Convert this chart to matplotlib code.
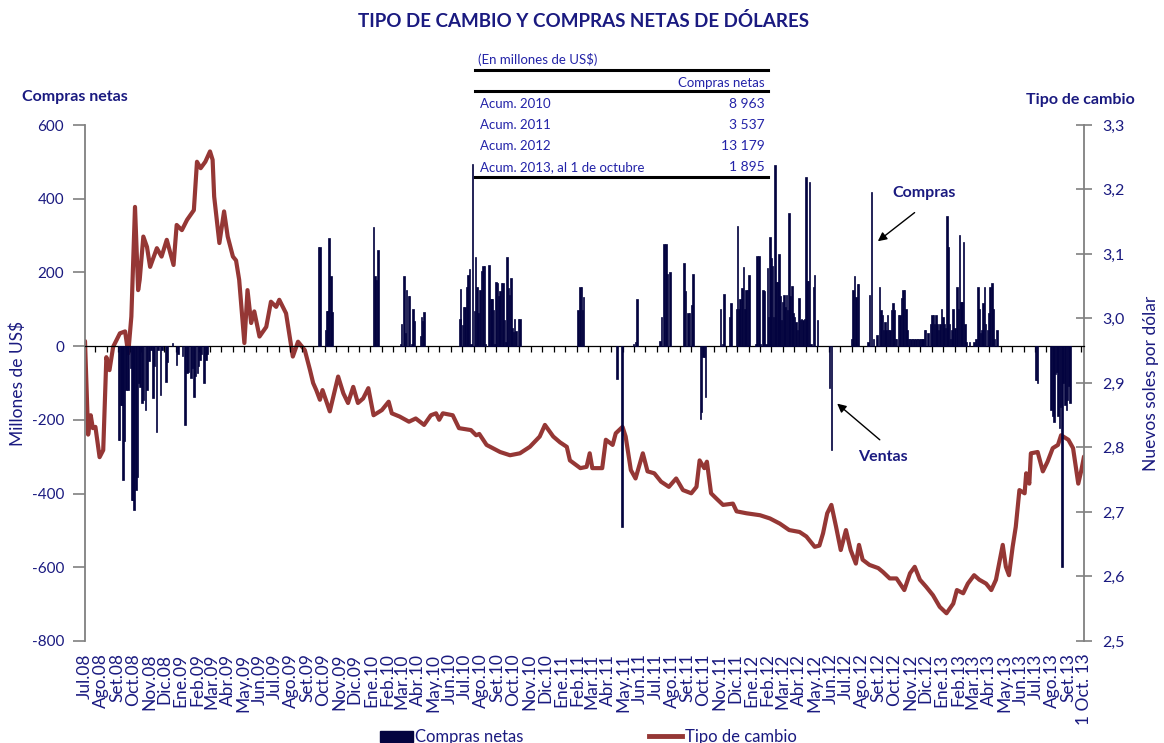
import matplotlib
matplotlib.use("Agg")
import matplotlib.pyplot as plt
import matplotlib.dates as mdates
from matplotlib.lines import Line2D
from matplotlib.patches import Patch
from matplotlib.ticker import FuncFormatter
import pandas as pd

plt.rcParams['font.family'] = ['Lato', 'DejaVu Sans']
plt.rcParams['axes.unicode_minus'] = False

# ---------------- DATA ----------------
# Tipo de cambio (soles por dólar)
tc_fechas = [
    "2008-07-01", "2008-07-07", "2008-07-12", "2008-07-16", "2008-07-21", "2008-07-29",
    "2008-08-05", "2008-08-11", "2008-08-17", "2008-08-24", "2008-09-06", "2008-09-16",
    "2008-09-22", "2008-09-28", "2008-10-05", "2008-10-11", "2008-10-14", "2008-10-21",
    "2008-10-28", "2008-11-03", "2008-11-16", "2008-11-25", "2008-12-05", "2008-12-18",
    "2008-12-24", "2009-01-03", "2009-01-13", "2009-01-26", "2009-02-01", "2009-02-08",
    "2009-02-17", "2009-02-26", "2009-03-03", "2009-03-06", "2009-03-16", "2009-03-25",
    "2009-04-01", "2009-04-11", "2009-04-17", "2009-04-23", "2009-05-03", "2009-05-09",
    "2009-05-16", "2009-05-22", "2009-06-01", "2009-06-14", "2009-06-23", "2009-07-03",
    "2009-07-09", "2009-07-22", "2009-08-04", "2009-08-14", "2009-08-27", "2009-09-06",
    "2009-09-12", "2009-09-18", "2009-09-25", "2009-09-30", "2009-10-14", "2009-10-30",
    "2009-11-09", "2009-11-18", "2009-11-28", "2009-12-07", "2009-12-17", "2009-12-27",
    "2010-01-06", "2010-01-22", "2010-02-04", "2010-02-10", "2010-02-25", "2010-03-15",
    "2010-03-28", "2010-04-13", "2010-04-26", "2010-05-06", "2010-05-12", "2010-05-19",
    "2010-06-07", "2010-06-19", "2010-07-12", "2010-07-22", "2010-07-28", "2010-08-11",
    "2010-09-06", "2010-09-25", "2010-10-14", "2010-11-02", "2010-11-21", "2010-12-01",
    "2010-12-17", "2010-12-30", "2011-01-12", "2011-01-18", "2011-02-07", "2011-02-19",
    "2011-02-25", "2011-03-02", "2011-03-21", "2011-03-28", "2011-04-10", "2011-04-16",
    "2011-04-29", "2011-05-05", "2011-05-15", "2011-05-24", "2011-06-07", "2011-06-16",
    "2011-06-29", "2011-07-12", "2011-07-27", "2011-08-10", "2011-08-23", "2011-09-08",
    "2011-09-18", "2011-09-24", "2011-10-03", "2011-10-08", "2011-10-16", "2011-10-26",
    "2011-11-08", "2011-11-27", "2011-12-04", "2011-12-23", "2012-01-18", "2012-02-06",
    "2012-02-25", "2012-03-14", "2012-04-03", "2012-04-16", "2012-05-02", "2012-05-11",
    "2012-05-18", "2012-05-26", "2012-06-03", "2012-06-12", "2012-06-21", "2012-07-01",
    "2012-07-10", "2012-07-20", "2012-07-26", "2012-08-02", "2012-08-15", "2012-09-01",
    "2012-09-10", "2012-09-23", "2012-10-06", "2012-10-21", "2012-11-01", "2012-11-10",
    "2012-11-20", "2012-12-02", "2012-12-15", "2012-12-28", "2013-01-10", "2013-01-23",
    "2013-01-30", "2013-02-11", "2013-02-20", "2013-03-04", "2013-03-14", "2013-03-27",
    "2013-04-06", "2013-04-15", "2013-04-28", "2013-05-04", "2013-05-10", "2013-05-17",
    "2013-05-23", "2013-05-30", "2013-06-09", "2013-06-12", "2013-06-18", "2013-06-21",
    "2013-07-04", "2013-07-14", "2013-07-23", "2013-08-02", "2013-08-12", "2013-08-18",
    "2013-09-01", "2013-09-10", "2013-09-20", "2013-09-26", "2013-10-01",
]
tc_valores = [
    2.965, 2.820, 2.850, 2.830, 2.832, 2.785,
    2.796, 2.940, 2.920, 2.956, 2.977, 2.980,
    2.946, 3.003, 3.173, 3.044, 3.060, 3.127,
    3.111, 3.080, 3.109, 3.096, 3.122, 3.083,
    3.145, 3.137, 3.153, 3.168, 3.243, 3.233,
    3.243, 3.259, 3.246, 3.189, 3.117, 3.166,
    3.127, 3.096, 3.090, 3.060, 2.962, 3.044,
    2.993, 3.011, 2.972, 2.987, 3.026, 3.018,
    3.029, 3.008, 2.941, 2.964, 2.951, 2.920,
    2.900, 2.889, 2.874, 2.889, 2.856, 2.910,
    2.884, 2.869, 2.894, 2.869, 2.876, 2.892,
    2.850, 2.858, 2.871, 2.853, 2.848, 2.840,
    2.845, 2.835, 2.850, 2.853, 2.843, 2.853,
    2.850, 2.830, 2.827, 2.819, 2.821, 2.804,
    2.793, 2.788, 2.791, 2.801, 2.817, 2.835,
    2.817, 2.808, 2.801, 2.780, 2.768, 2.770,
    2.791, 2.768, 2.768, 2.812, 2.804, 2.822,
    2.832, 2.817, 2.765, 2.752, 2.791, 2.763,
    2.760, 2.747, 2.739, 2.752, 2.734, 2.729,
    2.739, 2.780, 2.768, 2.778, 2.729, 2.721,
    2.711, 2.713, 2.701, 2.698, 2.695, 2.690,
    2.682, 2.672, 2.669, 2.662, 2.646, 2.648,
    2.667, 2.698, 2.711, 2.677, 2.641, 2.672,
    2.641, 2.620, 2.649, 2.626, 2.618, 2.613,
    2.607, 2.597, 2.597, 2.579, 2.605, 2.615,
    2.595, 2.584, 2.571, 2.553, 2.543, 2.558,
    2.579, 2.574, 2.589, 2.602, 2.595, 2.589,
    2.579, 2.595, 2.649, 2.615, 2.602, 2.646,
    2.677, 2.734, 2.729, 2.760, 2.744, 2.791,
    2.793, 2.763, 2.778, 2.799, 2.804, 2.819,
    2.812, 2.799, 2.744, 2.765, 2.786,
]

# Compras netas diarias (millones de US$)
compras_fechas = [
    # 2008-2009 ventas
    "2008-09-03", "2008-09-05", "2008-09-08", "2008-09-10", "2008-09-12", "2008-09-15",
    "2008-09-18", "2008-09-22", "2008-09-26", "2008-09-29", "2008-10-01", "2008-10-03",
    "2008-10-07", "2008-10-10", "2008-10-13", "2008-10-15", "2008-10-18", "2008-10-21",
    "2008-10-25", "2008-10-28", "2008-11-01", "2008-11-05", "2008-11-09", "2008-11-11",
    "2008-11-15", "2008-11-18", "2008-11-23", "2008-11-26", "2008-12-03", "2008-12-05",
    "2008-12-16", "2008-12-24", "2008-12-27", "2009-01-04", "2009-01-09", "2009-01-13",
    "2009-01-16", "2009-01-21", "2009-01-23", "2009-01-26", "2009-01-29", "2009-02-02",
    "2009-02-04", "2009-02-07", "2009-02-10", "2009-02-14", "2009-02-18", "2009-02-20",
    # 2009-2010
    "2009-09-22", "2009-09-25", "2009-10-06", "2009-10-09", "2009-10-11", "2009-10-13",
    "2009-10-16", "2009-10-18",
    "2010-01-06", "2010-01-09", "2010-01-12", "2010-01-15",
    "2010-02-27", "2010-03-01", "2010-03-05", "2010-03-08", "2010-03-10", "2010-03-14",
    "2010-03-16", "2010-03-21", "2010-03-23", "2010-03-26", "2010-04-06", "2010-04-08",
    "2010-04-11", "2010-04-13",
    "2010-06-21", "2010-06-22", "2010-06-26", "2010-06-28", "2010-07-01", "2010-07-04",
    "2010-07-06", "2010-07-09", "2010-07-12", "2010-07-15", "2010-07-19", "2010-07-21",
    "2010-07-24", "2010-07-26", "2010-07-29", "2010-08-01", "2010-08-04", "2010-08-07",
    "2010-08-09", "2010-08-16", "2010-08-19", "2010-08-21", "2010-08-24", "2010-08-27",
    "2010-08-29", "2010-09-01", "2010-09-04", "2010-09-06", "2010-09-09", "2010-09-11",
    "2010-09-14", "2010-09-17", "2010-09-19", "2010-09-22", "2010-09-24", "2010-09-27",
    "2010-09-29", "2010-10-02", "2010-10-04", "2010-10-07", "2010-10-11", "2010-10-14",
    # 2011
    "2011-02-03", "2011-02-06", "2011-02-09", "2011-02-11", "2011-02-13",
    "2011-04-18", "2011-04-28", "2011-05-20", "2011-05-24", "2011-05-27",
    "2011-07-10", "2011-07-13", "2011-07-18", "2011-07-21", "2011-07-24", "2011-07-29",
    "2011-08-25", "2011-08-28", "2011-09-02", "2011-09-05", "2011-09-09", "2011-09-11",
    "2011-09-26", "2011-09-28", "2011-09-30", "2011-10-03", "2011-10-05",
    "2011-11-03", "2011-11-07", "2011-11-10", "2011-11-20", "2011-11-23",
    "2011-12-04", "2011-12-06", "2011-12-09", "2011-12-11", "2011-12-14", "2011-12-17",
    "2011-12-20", "2011-12-22", "2011-12-25", "2011-12-28",
    # 2012
    "2012-01-10", "2012-01-12", "2012-01-16", "2012-01-19", "2012-01-24", "2012-01-26",
    "2012-01-29", "2012-02-01", "2012-02-03", "2012-02-06", "2012-02-08", "2012-02-11",
    "2012-02-13", "2012-02-16", "2012-02-18", "2012-02-21", "2012-02-23", "2012-02-25",
    "2012-02-28", "2012-03-01", "2012-03-04", "2012-03-06", "2012-03-09", "2012-03-11",
    "2012-03-14", "2012-03-16", "2012-03-19", "2012-03-21", "2012-03-24", "2012-03-27",
    "2012-03-30", "2012-04-02", "2012-04-05", "2012-04-07", "2012-04-10", "2012-04-12",
    "2012-04-15", "2012-04-17", "2012-04-20", "2012-04-22", "2012-04-25", "2012-04-30",
    "2012-05-02", "2012-05-07", "2012-05-30", "2012-06-03",
    "2012-07-12", "2012-07-14", "2012-07-17", "2012-07-20", "2012-07-23", "2012-07-25",
    "2012-08-12", "2012-08-15", "2012-08-19", "2012-08-23", "2012-08-30", "2012-09-03",
    "2012-09-06", "2012-09-09", "2012-09-11", "2012-09-14", "2012-09-16", "2012-09-19",
    "2012-09-21", "2012-09-24", "2012-09-26", "2012-09-29", "2012-10-01", "2012-10-04",
    "2012-10-06", "2012-10-10", "2012-10-13", "2012-10-16", "2012-10-19", "2012-10-21",
    "2012-10-24", "2012-10-26", "2012-10-29", "2012-10-31", "2012-11-03", "2012-11-06",
    "2012-11-09", "2012-11-12", "2012-11-15", "2012-11-18", "2012-11-21", "2012-11-24",
    "2012-11-26", "2012-11-29", "2012-12-01", "2012-12-06", "2012-12-10", "2012-12-13",
    "2012-12-16", "2012-12-18", "2012-12-21", "2012-12-23", "2012-12-26", "2012-12-28",
    "2012-12-31",
    # 2013
    "2013-01-03", "2013-01-05", "2013-01-08", "2013-01-11", "2013-01-13", "2013-01-16",
    "2013-01-18", "2013-01-21", "2013-01-23", "2013-01-26", "2013-01-30", "2013-02-02",
    "2013-02-04", "2013-02-07", "2013-02-09", "2013-02-12", "2013-02-14", "2013-02-16",
    "2013-02-23", "2013-03-04", "2013-03-08", "2013-03-11", "2013-03-13", "2013-03-16",
    "2013-03-19", "2013-03-21", "2013-03-24", "2013-03-26", "2013-03-30", "2013-04-02",
    "2013-04-04", "2013-04-07", "2013-04-09", "2013-04-12", "2013-04-17",
    "2013-06-30", "2013-07-02", "2013-07-04", "2013-07-30", "2013-08-02", "2013-08-04",
    "2013-08-07", "2013-08-10", "2013-08-12", "2013-08-15", "2013-08-17", "2013-08-20",
    "2013-08-22", "2013-08-25", "2013-08-28", "2013-08-30", "2013-09-02", "2013-09-04",
]
compras_valores = [
    -254, -254, -160, -160, -363, -258,
    -119, -119, -60, -417, -417, -445,
    -390, -354, -100, -110, -155, -146,
    -173, -119, -40, -10, -141, -55,
    -232, -10, -132, -10, -96, -42,
    8, -51, -20, -27, -214, -73,
    -70, -86, -60, -137, -82, -73,
    -55, -37, -20, -101, -37, -20,
    270, 270, 44, 94, 94, 293,
    190, 93,
    323, 189, 180, 261,
    5, 60, 190, 35, 152, 135,
    135, 5, 100, 67, 27, 80,
    67, 92,
    73, 155, 57, 107, 107, 160,
    192, 210, 5, 494, 94, 243,
    161, 89, 152, 205, 217, 217,
    5, 220, 127, 127, 98, 5,
    175, 170, 136, 150, 170, 170,
    71, 10, 243, 157, 138, 184,
    48, 39, 75, 40, 75, 75,
    98, 161, 161, 98, 134,
    -90, -490, 5, 10, 129,
    15, 80, 277, 277, 195, 200,
    225, 150, 90, 90, 112, 196,
    -198, -180, -30, -30, -137,
    100, 5, 141, 80, 116,
    102, 325, 100, 127, 158, 214,
    100, 152, 152, 194,
    5, 245, 245, 5, 152, 150,
    5, 212, 80, 295, 240, 217,
    80, 492, 175, 175, 250, 136,
    71, 120, 138, 107, 138, 98,
    362, 136, 163, 89, 80, 66,
    44, 130, 71, 75, 71, 75,
    460, 178, 178, 446, 5, 160,
    192, 71, -114, -282,
    20, 152, 189, 134, 169, 169,
    10, 139, 419, 20, 30, 161,
    98, 84, 44, 66, 44, 84,
    44, 44, 98, 117, 98, 20,
    20, 84, 84, 130, 152, 152,
    100, 44, 20, 20, 20, 20,
    20, 20, 20, 20, 20, 20,
    20, 44, 44, 35, 60, 84,
    84, 60, 84, 60, 44, 60,
    100,
    80, 60, 50, 353, 270, 60,
    20, 44, 100, 50, 160, 100,
    301, 120, 120, 283, 60, 12,
    10, 10, 20, 160, 100, 35,
    44, 117, 160, 60, 44, 89,
    160, 170, 100, 20, 44,
    -92, -92, -100, -173, -190, -205,
    -75, -70, -190, -223, -164, -598,
    -100, -160, -173, -146, -109, -155,
]

meses = ["Ene", "Feb", "Mar", "Abr", "May", "Jun",
         "Jul", "Ago", "Set", "Oct", "Nov", "Dic"]
etiquetas_x = []
fechas_x = []
for f in pd.date_range("2008-07-01", "2013-10-01", freq="MS"):
    fechas_x.append(f)
    etiquetas_x.append(f"{meses[f.month - 1]}.{f.year % 100:02d}")
etiquetas_x[-1] = "1 Oct. 13"

tabla_filas = ["Acum. 2010", "Acum. 2011", "Acum. 2012", "Acum. 2013, al 1 de octubre"]
tabla_valores = ["8 963", "3 537", "13 179", "1 895"]

# ---------------- STYLE ----------------
NAVY = '#1A1A80'
TBLUE = '#2323A8'
BAR = '#03033F'
LINE = '#953735'
GRAY = '#808080'

W, H = 1164, 743
def fx(px):
    return px / W
def fy(py):
    return 1 - py / H

fig = plt.figure(figsize=(W / 100, H / 100), dpi=100)
ax = fig.add_axes([fx(85), fy(641), fx(1084) - fx(85), fy(125) - fy(641)])
ax2 = ax.twinx()
ax.set_zorder(ax2.get_zorder() + 1)
ax.patch.set_visible(False)

ax.bar(pd.to_datetime(compras_fechas), compras_valores, width=3.0,
       color=BAR, edgecolor=BAR, linewidth=0.5, zorder=3)
ax2.plot(pd.to_datetime(tc_fechas), tc_valores, color=LINE, lw=3.0,
         solid_joinstyle='round', solid_capstyle='round')

ax.set_xlim(pd.Timestamp("2008-07-01"), pd.Timestamp("2013-10-01"))
ax.set_ylim(-800, 600)
ax2.set_ylim(2.5, 3.3)

# left axis
ax.set_yticks(range(-800, 601, 200))
ax.tick_params(axis='y', direction='out', length=9, width=1.2, color=GRAY,
               labelcolor=NAVY, labelsize=11, pad=6)
ax.spines['left'].set_color(GRAY)
ax.spines['left'].set_linewidth(1.3)
for s in ['top', 'right']:
    ax.spines[s].set_visible(False)
ax.spines['bottom'].set_position(('data', 0))
ax.spines['bottom'].set_color('black')
ax.spines['bottom'].set_linewidth(0.9)
ticks_x = pd.date_range("2008-07-21", "2013-10-01", freq="22D")
ax.set_xticks(mdates.date2num(ticks_x))
ax.set_xticklabels([])
ax.tick_params(axis='x', direction='out', length=4, width=0.9, color='black')

# month labels at the bottom
sec = ax.secondary_xaxis('bottom')
sec.set_xticks(mdates.date2num(fechas_x))
sec.set_xticklabels(etiquetas_x, rotation=90, color=NAVY, fontsize=12.5)
sec.tick_params(length=0, pad=9)
sec.spines['bottom'].set_visible(False)

# right axis
ax2.set_yticks([2.5 + 0.1 * i for i in range(9)])
ax2.yaxis.set_major_formatter(FuncFormatter(lambda v, p: f"{v:.1f}".replace('.', ',')))
ax2.tick_params(axis='y', direction='inout', length=12, width=1.2, color=GRAY,
                labelcolor=NAVY, labelsize=11.5, pad=7)
for s in ['top', 'left', 'bottom']:
    ax2.spines[s].set_visible(False)
ax2.spines['right'].set_color(GRAY)
ax2.spines['right'].set_linewidth(1.3)

# texts
fig.text(fx(583), fy(21), "TIPO DE CAMBIO Y COMPRAS NETAS DE DÓLARES", ha='center', va='center',
         fontsize=13.5, fontweight='bold', color=NAVY)
fig.text(fx(22), fy(97), "Compras netas", ha='left', va='center', fontsize=11.5,
         fontweight='bold', color=NAVY)
fig.text(fx(1135), fy(100), "Tipo de cambio", ha='right', va='center', fontsize=11.5,
         fontweight='bold', color=NAVY)
fig.text(fx(18), fy(383), "Millones de US$", rotation=90, ha='center', va='center',
         fontsize=12.5, color=NAVY)
fig.text(fx(1151), fy(383), "Nuevos soles por dólar", rotation=90, ha='center', va='center',
         fontsize=12.5, color=NAVY)

# table
fig.text(fx(478), fy(60), "(En millones de US$)", ha='left', va='center', fontsize=9.5, color=TBLUE)
fig.text(fx(765), fy(83), "Compras netas", ha='right', va='center', fontsize=9.5, color=TBLUE)
for i, (r, v) in enumerate(zip(tabla_filas, tabla_valores)):
    yy = 104 + 21 * i
    fig.text(fx(480), fy(yy), r, ha='left', va='center', fontsize=9.5, color=TBLUE)
    fig.text(fx(765), fy(yy), v, ha='right', va='center', fontsize=10, color=TBLUE)
for yy in (70, 91, 177):
    fig.add_artist(Line2D([fx(475), fx(768)], [fy(yy), fy(yy)], color='black', lw=2.2))

# annotations
def d(s):
    return mdates.date2num(pd.Timestamp(s))
ax.text(d("2012-11-27"), 415, "Compras", ha='center', va='center', fontsize=11.5,
        fontweight='bold', color=NAVY)
ax.annotate("", xy=(d("2012-08-27"), 280), xytext=(d("2012-11-14"), 367),
            arrowprops=dict(arrowstyle='-|>', color='black', lw=1, mutation_scale=13))
ax.text(d("2012-09-10"), -300, "Ventas", ha='center', va='center', fontsize=11.5,
        fontweight='bold', color=NAVY)
ax.annotate("", xy=(d("2012-06-10"), -151), xytext=(d("2012-09-08"), -259),
            arrowprops=dict(arrowstyle='-|>', color='black', lw=1, mutation_scale=13))

# legend
handles = [Patch(facecolor=BAR, edgecolor=BAR), Line2D([], [], color=LINE, lw=3.5)]
fig.legend(handles, ["Compras netas", "Tipo de cambio"], loc='center',
           bbox_to_anchor=(fx(588), fy(737)), ncol=2, frameon=False, fontsize=12,
           handlelength=2.0, handleheight=0.65, handletextpad=0.15, columnspacing=7.5,
           labelcolor=NAVY)

fig.savefig("out.png", dpi=100)
